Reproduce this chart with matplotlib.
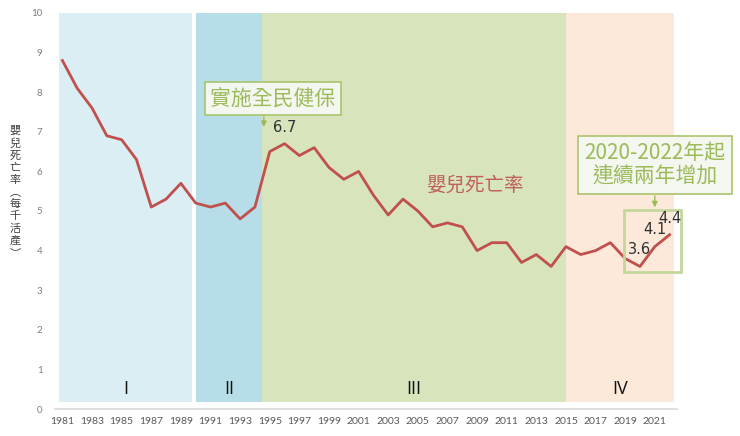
import numpy as np
import matplotlib
matplotlib.use("Agg")
import matplotlib.pyplot as plt
from matplotlib.patches import Rectangle

plt.rcParams['font.family'] = ['Noto Sans CJK TC', 'DejaVu Sans']

# data
years = list(range(1981, 2023))
rate = [8.8, 8.1, 7.6, 6.9, 6.8, 6.3, 5.1, 5.3, 5.7, 5.2,
        5.1, 5.2, 4.8, 5.1, 6.5, 6.7, 6.4, 6.6, 6.1, 5.8,
        6.0, 5.4, 4.9, 5.3, 5.0, 4.6, 4.7, 4.6, 4.0, 4.2,
        4.2, 3.7, 3.9, 3.6, 4.1, 3.9, 4.0, 4.2, 3.8, 3.6,
        4.1, 4.4]
period_start = [1980.8, 1990.0, 1994.5, 2015.0]
period_end = [1989.75, 1994.5, 2015.0, 2022.3]
period_label = ['I', 'II', 'III', 'IV']
labelled_years = [1996, 2020, 2021, 2022]

period_color = ['#dbeef4', '#b7dee8', '#d8e4bc', '#fde9d9']
green = '#9bbb59'
red = '#c0504d'

fig = plt.figure(figsize=(7.4, 4.36), dpi=100)
ax = fig.add_axes([55 / 740, 27 / 436, 622 / 740, 396 / 436])

for s, e, c, lab in zip(period_start, period_end, period_color, period_label):
    ax.fill_between([s, e], 0.17, 10, color=c, lw=0, zorder=0)
    ax.text((s + e) / 2, 0.5, lab, ha='center', va='center', fontsize=13,
            family='Open Sans', color='#111111')

ax.plot(years, rate, color=red, lw=2, zorder=3)

for yr in labelled_years:
    v = rate[years.index(yr)]
    ax.annotate('%.1f' % v, (yr, v), xytext=(0, 12), textcoords='offset points',
                ha='center', va='center', fontsize=10.5, color='#303030',
                family='DejaVu Sans', zorder=5)

ax.set_xlim(1980.5, 2022.5)
ax.set_ylim(0, 10)
ax.set_xticks(years[::2])
ax.set_xticklabels([str(y) for y in years[::2]], fontsize=7.5, color='#595959',
                   family='Lato')
ax.set_yticks(range(0, 11))
ax.set_yticklabels([str(i) for i in range(0, 11)], fontsize=7, color='#7f7f7f',
                   family='Lato')
ax.tick_params(axis='both', length=0)
ax.tick_params(axis='y', pad=9)
ax.tick_params(axis='x', pad=6)
for sp in ['top', 'right', 'left']:
    ax.spines[sp].set_visible(False)
ax.spines['bottom'].set_color('#d9d9d9')
ax.spines['bottom'].set_linewidth(1.2)

# y label, upright stacked characters
ylab = '嬰兒死亡率︵每千活產︶'
fig.text(15 / 740, 1 - 192 / 436, '\n'.join(ylab), ha='center', va='center',
         fontsize=8, color='#404040', linespacing=1.25)

# series label
ax.text(2008.9, 5.65, '嬰兒死亡率', ha='center', va='center', fontsize=14,
        color='#c0605d')

# annotation boxes
ax.text(1995.2, 7.84, '實施全民健保', ha='center', va='center', fontsize=15,
        color=green, fontweight='medium',
        bbox=dict(boxstyle='square,pad=0.25', fc='#f4f6f0', ec='#a9c46c', lw=1.2),
        zorder=6)
ax.annotate('', xy=(1994.6, 7.05), xytext=(1994.6, 7.45),
            arrowprops=dict(arrowstyle='-|>', color=green, lw=1, mutation_scale=8))

ax.text(2021.0, 6.16, '2020-2022年起\n連續兩年增加', ha='center', va='center',
        fontsize=15, color=green, fontweight='medium', linespacing=1.1,
        bbox=dict(boxstyle='square,pad=0.3', fc='#f4f6f0', ec='#a9c46c', lw=1.2),
        zorder=6, clip_on=False)
ax.annotate('', xy=(2021.0, 5.02), xytext=(2021.0, 5.45),
            arrowprops=dict(arrowstyle='-|>', color=green, lw=1, mutation_scale=8),
            annotation_clip=False)
ax.add_patch(Rectangle((2018.9, 3.46), 3.9, 1.57, fill=False, ec='#c4d79b',
                       lw=2, zorder=4, clip_on=False))

fig.savefig('out.png', dpi=100)
